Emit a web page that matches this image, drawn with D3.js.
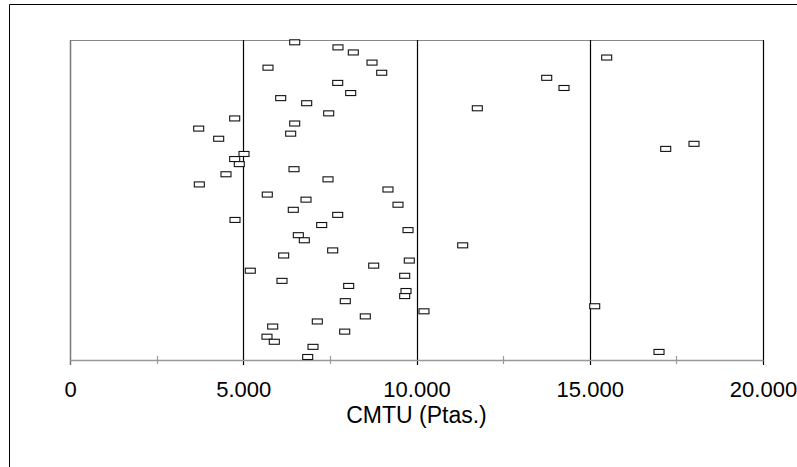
<!DOCTYPE html>
<html>
<head>
<meta charset="utf-8">
<script src="https://cdn.jsdelivr.net/npm/d3@7"></script>
<style>
  body { margin: 0; background: #fff; }
  svg { display: block; }
  text { font-family: "Liberation Sans", Arial, sans-serif; fill: #000; }
</style>
</head>
<body>
<div id="chart"></div>
<script>
// CMTU values (Ptas.), one per row, top to bottom
const cmtu = [6485, 7734, 8176, 15489, 8716, 5714, 8996, 13758, 7726, 14257,
  8101, 6081, 6831, 11755, 7466, 4753, 6485, 3714, 6369, 4291,
  18009, 17192, 5022, 4753, 4886, 6465, 4502, 7446, 3732, 9177,
  5694, 6811, 9466, 6444, 7726, 4762, 7264, 9755, 6589, 6762,
  11333, 7581, 6167, 9792, 8765, 5203, 9659, 6118, 8043, 9697,
  9659, 7945, 15143, 10216, 8522, 7137, 5850, 7928, 5685, 5896,
  7013, 16999, 6860];
const majorTicks = [0, 5000, 10000, 15000, 20000];
const minorTicks = [2500, 7500, 12500, 17500];
const xTitle = "CMTU (Ptas.)";

const W = 797, H = 467;
const margin = { top: 40, left: 70, right: 34, bottom: 107 };
const width = W - margin.left - margin.right;
const height = 360 - margin.top;

const svg = d3.select("#chart").append("svg")
  .attr("width", W).attr("height", H);

// outer frame (left and top edges visible)
svg.append("line").attr("x1", 9.5).attr("x2", 9.5).attr("y1", 4.5).attr("y2", H)
  .attr("stroke", "#000");
svg.append("line").attr("x1", 9.5).attr("x2", W).attr("y1", 4.5).attr("y2", 4.5)
  .attr("stroke", "#000");

const g = svg.append("g").attr("transform", `translate(${margin.left},${margin.top})`);

const x = d3.scaleLinear().domain([0, 20000]).range([0, width]);
const y = d3.scalePoint().domain(d3.range(cmtu.length)).range([2.3, 317]);

// top border of plot
g.append("line").attr("x1", 0).attr("x2", width).attr("y1", 0.5).attr("y2", 0.5)
  .attr("stroke", "#888");

// vertical lines
g.selectAll(".vline").data(majorTicks).enter().append("line")
  .attr("class", "vline")
  .attr("x1", d => Math.round(x(d)) + 0.5).attr("x2", d => Math.round(x(d)) + 0.5)
  .attr("y1", 0).attr("y2", height + 5)
  .attr("stroke", d => d === 0 ? "#777" : "#000")
  .attr("stroke-width", d => d === 0 ? 1.5 : 1.2);

// x axis
const axis = g.append("g").attr("transform", `translate(0,${height})`)
  .call(d3.axisBottom(x).tickValues(majorTicks).tickSize(0).tickPadding(21)
    .tickFormat(d => d === 0 ? "0" : d3.format(",")(d).replace(/,/g, ".")));
axis.select(".domain").attr("stroke", "#999").attr("stroke-width", 1.5);
axis.selectAll("text").style("font-size", "22px").style("font-family", "Liberation Sans, Arial, sans-serif");

g.selectAll(".minor").data(minorTicks).enter().append("line")
  .attr("x1", d => Math.round(x(d)) + 0.5).attr("x2", d => Math.round(x(d)) + 0.5)
  .attr("y1", height - 4).attr("y2", height + 4)
  .attr("stroke", "#999").attr("stroke-width", 1.2);

// axis title
g.append("text")
  .attr("x", x(10000)).attr("y", height + 63)
  .attr("text-anchor", "middle")
  .style("font-size", "23px")
  .text(xTitle);

// markers
g.selectAll(".pt").data(cmtu).enter().append("rect")
  .attr("class", "pt")
  .attr("x", d => x(d) - 5)
  .attr("y", (d, i) => y(i) - 2.5)
  .attr("width", 10).attr("height", 5)
  .attr("fill", "#fff")
  .attr("stroke", "#111").attr("stroke-width", 1.1);
</script>
</body>
</html>
